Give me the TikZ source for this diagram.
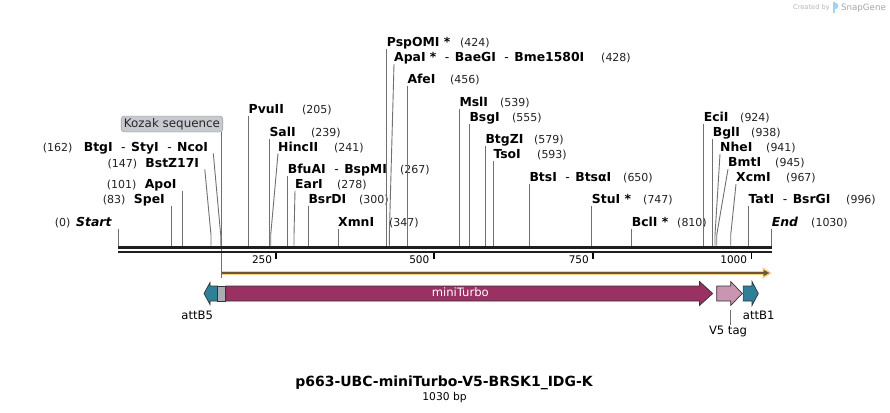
\documentclass[tikz,border=0pt]{standalone}
\usepackage{fontspec}
\setmainfont{DejaVu Sans}
\usetikzlibrary{arrows.meta}
\definecolor{cutgray}{HTML}{707070}
\definecolor{numblack}{HTML}{222222}
\definecolor{orfbar}{HTML}{F9CF87}
\definecolor{orfline}{HTML}{6E5532}
\definecolor{attteal}{HTML}{2E8099}
\definecolor{turbo}{HTML}{9A3162}
\definecolor{v5pink}{HTML}{C995B0}
\definecolor{kozfill}{HTML}{A8AEB4}
\definecolor{kozbox}{HTML}{C6C9CD}
\definecolor{kozline}{HTML}{8D9094}
\definecolor{snapblue}{HTML}{9FD3F0}
\newcommand{\dsh}{\hspace{8.5pt}{\mdseries -}\hspace{5.5pt}}
\begin{document}
\begin{tikzpicture}[x=1pt,y=-1pt,
  enz/.style={font=\fontsize{12.4}{14}\selectfont\bfseries, inner xsep=0pt, inner ysep=1pt, text depth=1.2pt, anchor=base west},
  enzl/.style={enz, anchor=base east},
  numr/.style={font=\fontsize{11}{13}\selectfont, text=numblack, inner sep=0pt, anchor=base west},
  numl/.style={numr, anchor=base east},
  cutline/.style={cutgray, line width=0.9pt},
  tickline/.style={black, line width=1.4pt},
  ticklab/.style={font=\fontsize{10.5}{12}\selectfont, inner sep=0pt, anchor=base east},
  feat/.style={draw=black!80, line width=0.7pt, line join=miter},
  featlab/.style={font=\fontsize{11.6}{13}\selectfont, inner sep=1pt, anchor=base}]
\fill[white] (0,0) rectangle (890,412);
\useasboundingbox (0,0) rectangle (890,412);

\coordinate (b0) at (118,245.7);
\coordinate (b83) at (171.7,245.7);
\coordinate (b101) at (182.7,245.7);
\coordinate (b147) at (211,245.7);
\coordinate (b162) at (220.7,245.7);
\coordinate (b205) at (248.5,245.7);
\coordinate (b239) at (269.3,245.7);
\coordinate (b241) at (270.7,245.7);
\coordinate (b267) at (287.7,245.7);
\coordinate (b278) at (294,245.7);
\coordinate (b300) at (308.3,245.7);
\coordinate (b347) at (338,245.7);
\coordinate (b424) at (386.7,245.7);
\coordinate (b428) at (389.3,245.7);
\coordinate (b456) at (407.3,245.7);
\coordinate (b539) at (459.3,245.7);
\coordinate (b555) at (469.3,245.7);
\coordinate (b579) at (485.3,245.7);
\coordinate (b593) at (493.3,245.7);
\coordinate (b650) at (529.3,245.7);
\coordinate (b747) at (591.7,245.7);
\coordinate (b810) at (631.7,245.7);
\coordinate (b924) at (703.7,245.7);
\coordinate (b938) at (712.7,245.7);
\coordinate (b941) at (715,245.7);
\coordinate (b945) at (716.7,245.7);
\coordinate (b967) at (730.7,245.7);
\coordinate (b996) at (748.3,245.7);
\coordinate (b1030) at (771.7,245.7);
\coordinate (k147) at (211,235);
\coordinate (k162) at (220.7,235);
\coordinate (k241) at (270.7,235);
\coordinate (k278) at (294,235);
\coordinate (k428) at (389.3,236);
\coordinate (k941) at (715,235);
\coordinate (k945) at (716.7,235);
\coordinate (k967) at (730.7,235);

\node[enzl] (e0) at (111.7,226.1) {\itshape Start};
\node[numl] (n0) at (70.7,226.1) {(0)};
\node[enzl] (e83) at (165,203.7) {SpeI};
\node[numl] (n83) at (125.7,203.7) {(83)};
\node[enzl] (e101) at (176.7,188.4) {ApoI};
\node[numl] (n101) at (136.7,188.4) {(101)};
\node[enzl] (e147) at (199.3,167.1) {BstZ17I};
\node[numl] (n147) at (137.3,167.1) {(147)};
\node[enzl] (e162) at (208.3,151.1) {BtgI\dsh StyI\dsh NcoI};
\node[numl] (n162) at (72.7,151.1) {(162)};
\node[enz] (e205) at (248.5,113.4) {PvuII};
\node[numr] (n205) at (302,113.4) {(205)};
\node[enz] (e239) at (269.3,136.1) {SalI};
\node[numr] (n239) at (311,136.1) {(239)};
\node[enz] (e241) at (278,151.1) {HincII};
\node[numr] (n241) at (334,151.1) {(241)};
\node[enz] (e267) at (287.7,173.7) {BfuAI\dsh BspMI};
\node[numr] (n267) at (400,173.7) {(267)};
\node[enz] (e278) at (295,188.4) {EarI};
\node[numr] (n278) at (337,188.4) {(278)};
\node[enz] (e300) at (308.3,203.7) {BsrDI};
\node[numr] (n300) at (359,203.7) {(300)};
\node[enz] (e347) at (338,226.4) {XmnI};
\node[numr] (n347) at (389,226.4) {(347)};
\node[enz] (e424) at (386.7,46.7) {PspOMI *};
\node[numr] (n424) at (460,46.7) {(424)};
\node[enz] (e428) at (394,61.7) {ApaI *\dsh BaeGI\dsh Bme1580I};
\node[numr] (n428) at (601,61.7) {(428)};
\node[enz] (e456) at (407.3,83.7) {AfeI};
\node[numr] (n456) at (450,83.7) {(456)};
\node[enz] (e539) at (459.3,106.1) {MslI};
\node[numr] (n539) at (500,106.1) {(539)};
\node[enz] (e555) at (469.3,121.7) {BsgI};
\node[numr] (n555) at (512,121.7) {(555)};
\node[enz] (e579) at (485.3,143.4) {BtgZI};
\node[numr] (n579) at (534,143.4) {(579)};
\node[enz] (e593) at (493.3,158.7) {TsoI};
\node[numr] (n593) at (537,158.7) {(593)};
\node[enz] (e650) at (529.3,181.1) {BtsI\dsh BtsαI};
\node[numr] (n650) at (623,181.1) {(650)};
\node[enz] (e747) at (591.7,203.7) {StuI *};
\node[numr] (n747) at (643,203.7) {(747)};
\node[enz] (e810) at (631.7,226.7) {BclI *};
\node[numr] (n810) at (677,226.7) {(810)};
\node[enz] (e924) at (703.7,121.7) {EciI};
\node[numr] (n924) at (740,121.7) {(924)};
\node[enz] (e938) at (712.7,136.7) {BglI};
\node[numr] (n938) at (751,136.7) {(938)};
\node[enz] (e941) at (720,151.7) {NheI};
\node[numr] (n941) at (766,151.7) {(941)};
\node[enz] (e945) at (728,166.7) {BmtI};
\node[numr] (n945) at (775,166.7) {(945)};
\node[enz] (e967) at (736,181.7) {XcmI};
\node[numr] (n967) at (786,181.7) {(967)};
\node[enz] (e996) at (748.3,203.4) {TatI\dsh BsrGI};
\node[numr] (n996) at (846,203.4) {(996)};
\node[enz] (e1030) at (771.7,226.7) {\itshape End};
\node[numr] (n1030) at (811,226.7) {(1030)};

\draw[cutline] (e0.south -| b0) -- (b0);
\draw[cutline] (e83.south -| b83) -- (b83);
\draw[cutline] (e101.south -| b101) -- (b101);
\draw[cutline] ([xshift=5.5pt]e147.south east) -- (k147) -- (b147);
\draw[cutline] ([xshift=5pt]e162.south east) -- (k162) -- (b162);
\draw[cutline] (e205.south -| b205) -- (b205);
\draw[cutline] (e239.south -| b239) -- (b239);
\draw[cutline] (e241.south west) -- (k241) -- (b241);
\draw[cutline] (e267.south -| b267) -- (b267);
\draw[cutline] (e278.south west) -- (k278) -- (b278);
\draw[cutline] (e300.south -| b300) -- (b300);
\draw[cutline] (e347.south -| b347) -- (b347);
\draw[cutline] (e424.south -| b424) -- (b424);
\draw[cutline] (e428.south west) -- (k428) -- (b428);
\draw[cutline] (e456.south -| b456) -- (b456);
\draw[cutline] (e539.south -| b539) -- (b539);
\draw[cutline] (e555.south -| b555) -- (b555);
\draw[cutline] (e579.south -| b579) -- (b579);
\draw[cutline] (e593.south -| b593) -- (b593);
\draw[cutline] (e650.south -| b650) -- (b650);
\draw[cutline] (e747.south -| b747) -- (b747);
\draw[cutline] (e810.south -| b810) -- (b810);
\draw[cutline] (e924.south -| b924) -- (b924);
\draw[cutline] (e938.south -| b938) -- (b938);
\draw[cutline] (e941.south west) -- (k941) -- (b941);
\draw[cutline] (e945.south west) -- (k945) -- (b945);
\draw[cutline] (e967.south west) -- (k967) -- (b967);
\draw[cutline] (e996.south -| b996) -- (b996);
\draw[cutline] (e1030.south -| b1030) -- (b1030);

\node[draw=kozline, fill=kozbox, rounded corners=3pt, font=\fontsize{11.9}{13}\selectfont, text=black!85, inner xsep=2.8pt, inner ysep=2pt, text height=9pt, text depth=3pt] (koz) at (172,124) {Kozak sequence};
\coordinate (bk) at (221.3,278);
\draw[cutline] (koz.south -| bk) -- (bk);

\coordinate (bb0) at (118,247.2);
\coordinate (bb1) at (771.7,247.2);
\coordinate (bc0) at (118,251.7);
\coordinate (bc1) at (771.7,251.7);
\draw[line width=3pt, black!88] (bb0) -- (bb1);
\draw[line width=2pt, black!88] (bc0) -- (bc1);

\coordinate (t250) at (276,252.6);
\coordinate (t500) at (434,252.6);
\coordinate (t750) at (593,252.6);
\coordinate (t1000) at (751.3,252.6);
\draw[tickline] (t250) -- ++(0,6.8);
\draw[tickline] (t500) -- ++(0,6.8);
\draw[tickline] (t750) -- ++(0,6.8);
\draw[tickline] (t1000) -- ++(0,6.8);
\node[ticklab] (l250) at (272.3,263.3) {250};
\node[ticklab] (l500) at (429.5,263.3) {500};
\node[ticklab] (l750) at (589,263.3) {750};
\node[ticklab] (l1000) at (747.3,263.3) {1000};

\coordinate (o0) at (222,273);
\coordinate (o1) at (771.7,273);
\draw[orfbar, line width=4.2pt, -{Triangle[length=9pt,width=11pt,line width=0.1pt]}] (o0) -- (o1);
\draw[orfline, line width=1.3pt, -{Triangle[length=5.5pt,width=6pt,line width=0.1pt]}] (o0) -- ([xshift=-2.5pt]o1);

\draw[feat, fill=attteal] (217.7,286) -- (210,286) -- (210,282.5) -- (204,293.5) -- (210,304.5) -- (210,301) -- (217.7,301) -- cycle;
\draw[feat, fill=kozfill] (217.7,286) rectangle (225.7,301);
\draw[feat, fill=turbo] (225.7,286) -- (699.5,286) -- (699.5,281.5) -- (712.7,293.5) -- (699.5,305.5) -- (699.5,301) -- (225.7,301) -- cycle;
\draw[feat, fill=v5pink] (716.7,286) -- (730.7,286) -- (730.7,281.5) -- (742.3,293.5) -- (730.7,305.5) -- (730.7,301) -- (716.7,301) -- cycle;
\draw[feat, fill=attteal] (743.3,286) -- (752,286) -- (752,281.5) -- (758.3,293.5) -- (752,305.5) -- (752,301) -- (743.3,301) -- cycle;
\node[featlab, text=white] (lmt) at (460.3,296.7) {miniTurbo};
\node[featlab] (lb5) at (197.2,319.3) {attB5};
\node[featlab] (lb1) at (758.7,319.3) {attB1};
\node[featlab] (lv5) at (728,334.3) {V5 tag};
\coordinate (v5c) at (730.7,309.5);
\draw[cutline] (v5c) -- (v5c |- lv5.north);

\node[font=\fontsize{14}{16}\selectfont\bfseries, inner sep=0pt, anchor=base] (title) at (444,386.5) {p663-UBC-miniTurbo-V5-BRSK1\_IDG-K};
\node[font=\fontsize{10.7}{12}\selectfont, inner sep=0pt, anchor=base] (size) at (444.5,400.3) {1030 bp};

\node[font=\fontsize{6.7}{8}\selectfont, text=black!28, inner sep=0pt] (made) at (811.5,8) {Created by};
\node[font=\fontsize{8.7}{10}\selectfont, text=black!35, inner sep=0pt] (sg) at (863.5,8) {SnapGene};
\fill[snapblue] (832.5,2.5) rectangle (834.6,13.5);
\fill[snapblue] (834.6,2.5) -- (837,3.4) -- (838.5,5.8) -- (837,8.4) -- (834.6,9.4) -- cycle;
\end{tikzpicture}
\end{document}
